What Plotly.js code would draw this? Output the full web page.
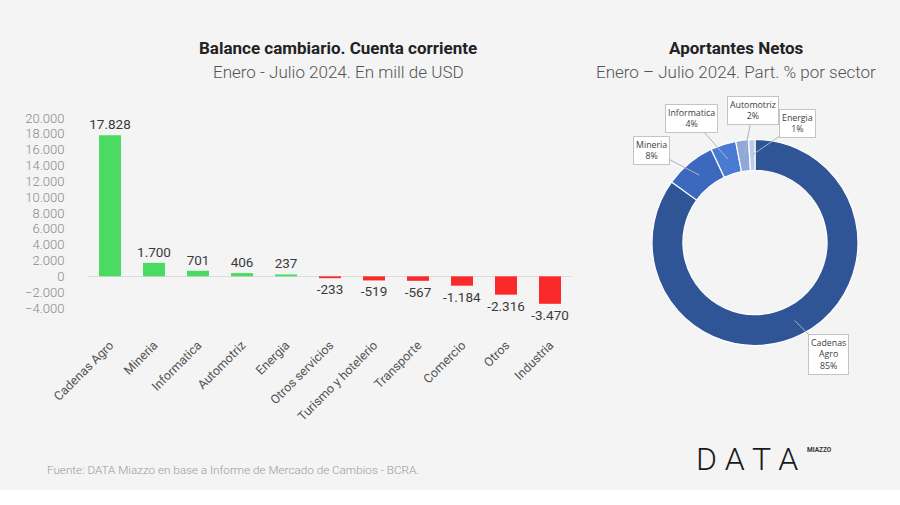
<!DOCTYPE html>
<html><head><meta charset="utf-8">
<script src="https://cdn.plot.ly/plotly-3.0.1.min.js"></script>
<style>html,body{margin:0;padding:0;background:#f4f4f4;} #chart{width:900px;height:505px;}</style>
</head><body><div id="chart"></div>
<script>
const categories = ["Cadenas Agro","Mineria","Informatica","Automotriz","Energia","Otros servicios","Turismo y hotelerio","Transporte","Comercio","Otros","Industria"];
const balance = [17828, 1700, 701, 406, 237, -233, -519, -567, -1184, -2316, -3470];
const yTickVals = [-4000,-2000,0,2000,4000,6000,8000,10000,12000,14000,16000,18000,20000];

const pieLabels = ["Cadenas<br>Agro","Mineria","Informatica","Automotriz","Energia"];
const pieValues = [85, 8, 4, 2, 1];
const pieColors = ["#2f5597","#3c69bd","#4a7bd3","#8fa8da","#bccbe8"];
// label box offsets (pixels, relative to slice arrow tip)
const pieLabelOffsets = [[34,34],[-48,-25],[-36,-41],[9,-45],[45,-31]];

const W = 900, H = 505;
const pieDomX = [652/W, 858/W], pieDomY = [1-345.5/H, 1-139.5/H];

const barColors = balance.map(v => v >= 0 ? "#4cdb62" : "#fb2a2a");

const bar = {
  type: "bar", x: categories, y: balance,
  marker: {color: barColors}, width: 0.5,
  texttemplate: "%{y:,}", textposition: "outside", cliponaxis: false,
  constraintext: "none",
  textfont: {family: "Roboto", size: 13.5, color: "#3a3a3a"},
  hoverinfo: "x+y", xaxis: "x", yaxis: "y"
};

const pie = {
  type: "pie", labels: pieLabels, values: pieValues, sort: false,
  direction: "clockwise", rotation: 0, hole: 0.70,
  marker: {colors: pieColors, line: {color: "#ffffff", width: 1.2}},
  textinfo: "none", showlegend: false,
  domain: {x: pieDomX, y: pieDomY}
};

// compute label arrow tips from the pie values
const total = pieValues.reduce((a,b)=>a+b,0);
const cx = (pieDomX[0]+pieDomX[1])/2*W, cy = (1-(pieDomY[0]+pieDomY[1])/2)*H;
const R = (pieDomX[1]-pieDomX[0])*W/2, rMid = R*(1+0.70)/2;
let cum = 0;
const pieAnn = pieValues.map((v,i) => {
  const mid = (cum + v/2)/total; cum += v;
  const th = mid*2*Math.PI;
  const px = cx + rMid*Math.sin(th), py = cy - rMid*Math.cos(th);
  return {
    xref: "paper", yref: "paper", x: px/W, y: 1-py/H,
    text: pieLabels[i] + "<br>" + v + "%",
    showarrow: true, arrowhead: 0, arrowwidth: 1, arrowcolor: "#a9b4c6",
    ax: pieLabelOffsets[i][0], ay: pieLabelOffsets[i][1],
    bgcolor: "#ffffff", bordercolor: "#c4c4c4", borderwidth: 1, borderpad: 2,
    font: {family: "Open Sans", size: 8.8, color: "#404040"}
  };
});

const titleAnn = [
  {text: "<b>Balance cambiario. Cuenta corriente</b>", x: 338/W, y: 1-48/H, font: {family: "Roboto", size: 17, color: "#222"}},
  {text: "Enero - Julio 2024. En mill de USD", x: 338/W, y: 1-72/H, font: {family: "Roboto", size: 17, color: "#555", weight: 300}},
  {text: "<b>Aportantes Netos</b>", x: 736/W, y: 1-48/H, font: {family: "Roboto", size: 17, color: "#222"}},
  {text: "Enero – Julio 2024. Part. % por sector", x: 736/W, y: 1-72/H, font: {family: "Roboto", size: 17, color: "#555", weight: 300}},
  {text: "Fuente: DATA Miazzo en base a Informe de Mercado de Cambios - BCRA.", x: 45/W, y: 1-470/H, xanchor: "left", font: {family: "Roboto", size: 11.7, color: "#9a9a9a", weight: 300}},
  {text: "D A T A", x: 694/W, y: 1-459/H, xanchor: "left", font: {family: "Roboto", size: 32, color: "#1a1a1a", weight: 300}},
  {text: "<b>MIAZZO</b>", x: 805/W, y: 1-450/H, xanchor: "left", font: {family: "Roboto", size: 6.5, color: "#333"}}
].map(a => Object.assign({xref: "paper", yref: "paper", showarrow: false, xanchor: "center", yanchor: "middle"}, a));

const layout = {
  width: W, height: H,
  margin: {l: 0, r: 0, t: 0, b: 0},
  paper_bgcolor: "#f4f4f4", plot_bgcolor: "rgba(0,0,0,0)",
  separators: ",.",
  showlegend: false, bargap: 0.5,
  xaxis: {
    domain: [88/W, 572/W], type: "category", tickangle: -45,
    ticks: "outside", ticklen: 24, tickcolor: "rgba(0,0,0,0)",
    showgrid: false, showline: false, zeroline: false, automargin: false,
    tickfont: {family: "Roboto", size: 12.5, color: "#555"}
  },
  yaxis: {
    domain: [1-308/H, 1-118/H], range: [-4000, 20000],
    tickvals: yTickVals, tickformat: ",",
    ticks: "outside", ticklen: 20, tickcolor: "rgba(0,0,0,0)",
    showgrid: false, showline: false, automargin: false,
    zeroline: true, zerolinecolor: "#dcdcdc", zerolinewidth: 1,
    tickfont: {family: "Roboto", size: 13, color: "#8a8a8a", weight: 300}
  },
  shapes: [
    {type: "rect", xref: "paper", yref: "paper", x0: 0, x1: 1, y0: 0, y1: 15/H, fillcolor: "#ffffff", line: {width: 0}, layer: "below"}
  ],
  annotations: titleAnn.concat(pieAnn)
};

Plotly.newPlot("chart", [bar, pie], layout, {displayModeBar: false, staticPlot: true});
</script></body></html>
